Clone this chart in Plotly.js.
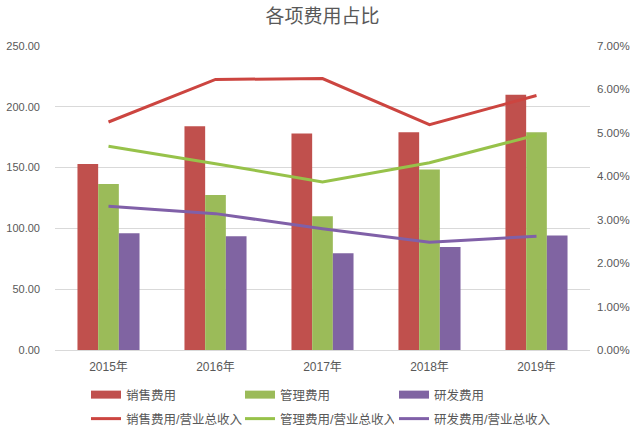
<!DOCTYPE html>
<html><head><meta charset="utf-8">
<script src="https://cdn.plot.ly/plotly-3.0.1.min.js"></script>
<style>html,body{margin:0;padding:0;background:#fff}#c{width:640px;height:434px}</style>
</head><body><div id="c"></div>
<script>
const categories = ['2015年','2016年','2017年','2018年','2019年'];
const salesExp = [153, 184, 178, 179, 210];
const mgmtExp = [136.5, 127.5, 110, 148.5, 179];
const rdExp = [96, 93.5, 79.5, 84.7, 94.2];
const salesRatio = [0.0525, 0.0623, 0.0625, 0.0519, 0.0586];
const mgmtRatio = [0.0469, 0.0429, 0.0387, 0.0431, 0.0495];
const rdRatio = [0.0331, 0.0314, 0.0279, 0.0248, 0.0262];
const barNames = ['销售费用','管理费用','研发费用'];
const lineNames = ['销售费用/营业总收入','管理费用/营业总收入','研发费用/营业总收入'];

const red = '#C0504D', green = '#9BBB59', purple = '#8064A2';
const lineRed = '#CC4540', lineGreen = '#97C24A', linePurple = '#8060A8';
const font = 'Liberation Sans, Noto Sans CJK SC, sans-serif';

const bars = [salesExp, mgmtExp, rdExp].map((v,i)=>({
  type:'bar', x:categories, y:v, name:barNames[i], marker:{color:[red,green,purple][i]},
  showlegend:false, hoverinfo:'skip'
}));
const barLegend = [0,1,2].map(i=>({
  type:'scatter', mode:'lines', x:[null], y:[null], name:barNames[i],
  line:{color:[red,green,purple][i], width:8}, legend:'legend', showlegend:true
}));
const lines = [salesRatio, mgmtRatio, rdRatio].map((v,i)=>({
  type:'scatter', mode:'lines', x:categories, y:v, yaxis:'y2', name:lineNames[i],
  line:{color:[lineRed,lineGreen,linePurple][i], width:3}, legend: i<2 ? 'legend2' : 'legend3'
}));

const legFont = {size:12.5, color:'#595959', family:font};
const legBase = {orientation:'h', xref:'container', yref:'container', xanchor:'left', yanchor:'middle',
                 entrywidthmode:'pixels', entrywidth:109, font:legFont, bgcolor:'rgba(0,0,0,0)'};
const layout = {
  width:640, height:434,
  margin:{l:55, r:50, t:46, b:84},
  paper_bgcolor:'#fff', plot_bgcolor:'#fff',
  font:{family:font, color:'#595959', size:11},
  title:{text:'各项费用占比', x:0.5, xref:'paper', y:0.963, yanchor:'middle',
         font:{size:19, color:'#595959', family:font}},
  barmode:'group', bargap:0.42, bargroupgap:0,
  xaxis:{type:'category', showgrid:false, zeroline:false, showline:true, linecolor:'#D9D9D9',
         tickfont:{size:12, color:'#595959'}, ticks:'', ticklabelstandoff:6},
  yaxis:{range:[0,250], dtick:50, tickformat:'.2f', showgrid:true, gridcolor:'#D9D9D9',
         zeroline:false, showline:false, ticks:'', tickfont:{size:11, color:'#595959'}, ticklabelstandoff:14},
  yaxis2:{range:[0,0.07], dtick:0.01, tickformat:'.2%', overlaying:'y', side:'right', showgrid:false,
         zeroline:false, showline:false, ticks:'', tickfont:{size:11.5, color:'#595959'}, ticklabelstandoff:6},
  legend:Object.assign({}, legBase, {x:86/640, y:1-395/434}),
  legend2:Object.assign({}, legBase, {x:86/640, y:1-419/434}),
  legend3:Object.assign({}, legBase, {x:394/640, y:1-419/434, entrywidth:0}),
  showlegend:true
};
Plotly.newPlot('c', [...bars, ...lines, ...barLegend], layout, {displayModeBar:false, staticPlot:true});
</script></body></html>
